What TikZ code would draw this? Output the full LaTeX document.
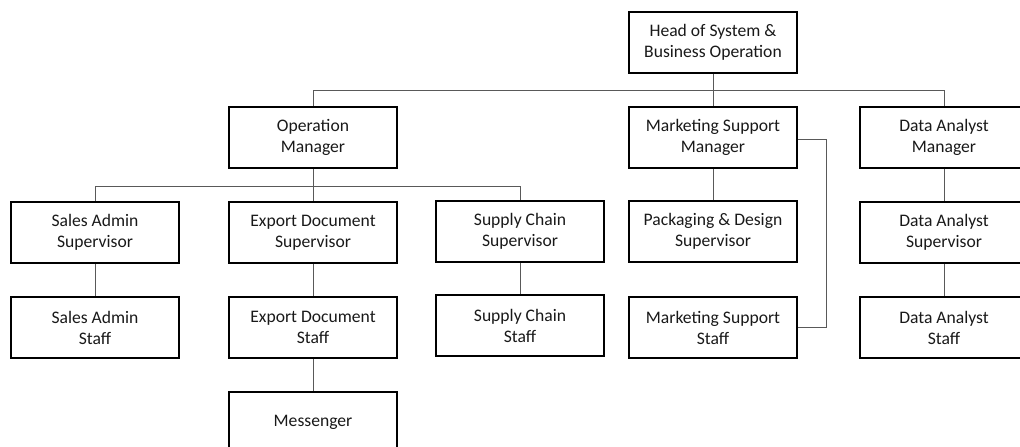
\documentclass[tikz,border=0pt]{standalone}
\usepackage{fontspec}
\setmainfont{Carlito}
\begin{document}
\begin{tikzpicture}[x=1pt,y=-1pt,
  box/.style={draw=black,line width=1.8pt,minimum width=168pt,minimum height=61pt,inner sep=0pt,align=center,font=\fontsize{17.6}{21}\selectfont,text=black!90},
  link/.style={draw=black!65,line width=1pt}]
\useasboundingbox (0,0) rectangle (1020,447);
\clip (0,0) rectangle (1020,447);
\node[box] (head) at (713,42.5) {Head of System \&\\Business Operation};
\node[box] (opm) at (313,137.5) {Operation\\Manager};
\node[box] (msm) at (713,137.5) {Marketing Support\\Manager};
\node[box] (dam) at (944,137.5) {Data Analyst\\Manager};
\node[box] (sas) at (95,232.5) {Sales Admin\\Supervisor};
\node[box] (eds) at (313,232.5) {Export Document\\Supervisor};
\node[box] (scs) at (520,231.5) {Supply Chain\\Supervisor};
\node[box] (pds) at (713,231.5) {Packaging \& Design\\Supervisor};
\node[box] (das) at (944,232.5) {Data Analyst\\Supervisor};
\node[box] (sast) at (95,327.5) {Sales Admin\\Staff};
\node[box] (edst) at (313,327.5) {Export Document\\Staff};
\node[box] (scst) at (520,325.5) {Supply Chain\\Staff};
\node[box] (mss) at (713,327.5) {Marketing Support\\Staff};
\node[box] (dast) at (944,327.5) {Data Analyst\\Staff};
\node[box] (mes) at (313,422.5) {Messenger};
\coordinate (bus1) at (713.5,90.5);
\coordinate (bus2) at (313.5,186.5);
\coordinate (brk) at (826.5,0);
\draw[link] (head.south -| bus1) -- (bus1);
\draw[link] (opm.north -| 313.5,0) |- (bus1) -| (dam.north -| 944.5,0);
\draw[link] (bus1) -- (msm.north -| bus1);
\draw[link] (opm.south -| bus2) -- (bus2);
\draw[link] (sas.north -| 95.5,0) |- (bus2) -| (scs.north -| 520.5,0);
\draw[link] (bus2) -- (eds.north -| bus2);
\draw[link] (sas) -- (sast);
\draw[link] (eds) -- (edst);
\draw[link] (edst) -- (mes);
\draw[link] (scs) -- (scst);
\draw[link] (msm) -- (pds);
\draw[link] (dam) -- (das);
\draw[link] (das) -- (dast);
\draw[link] (msm.east |- 0,139.5) -| (brk |- 0,327.5) -- (mss.east |- 0,327.5);
\end{tikzpicture}
\end{document}
